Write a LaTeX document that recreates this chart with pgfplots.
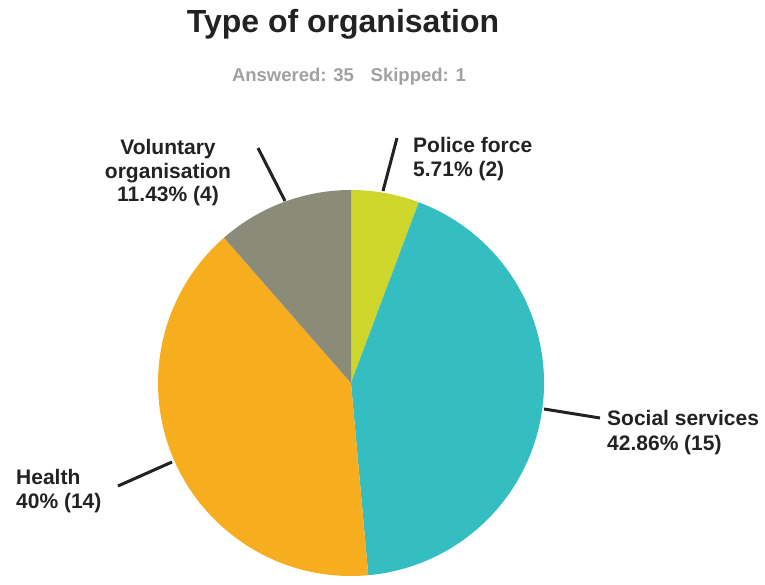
\documentclass[border=0pt]{standalone}
\usepackage{fontspec}
\setmainfont{Liberation Sans}
\usepackage{pgfplots}
\pgfplotsset{compat=1.18}
\usepackage{xcolor}

\definecolor{police}{RGB}{206,213,43}
\definecolor{social}{RGB}{52,190,193}
\definecolor{health}{RGB}{246,174,31}
\definecolor{volunt}{RGB}{139,139,122}
\definecolor{ink}{RGB}{34,34,34}
\definecolor{subgray}{RGB}{160,160,160}

% answers per type (35 answered)
\def\vPolice{2}
\def\vSocial{15}
\def\vHealth{14}
\def\vVol{4}
\def\total{35}

\begin{document}
\begin{tikzpicture}
\pgfmathsetmacro\aA{90}
\pgfmathsetmacro\aB{\aA-360*\vPolice/\total}
\pgfmathsetmacro\aC{\aB-360*\vSocial/\total}
\pgfmathsetmacro\aD{\aC-360*\vHealth/\total}
\pgfmathsetmacro\aE{\aD-360*\vVol/\total}
\begin{axis}[
    x=1pt, y=1pt,
    xmin=0, xmax=765, ymin=0, ymax=581,
    hide axis, clip=false,
  ]
  \path (axis cs:0,0) rectangle (axis cs:765,581);
  % slices, clockwise from the top
  \fill[police] (axis cs:351,198) -- ++(\aA:193pt) arc[start angle=\aA, end angle=\aB, radius=193pt] -- cycle;
  \fill[social] (axis cs:351,198) -- ++(\aB:193pt) arc[start angle=\aB, end angle=\aC, radius=193pt] -- cycle;
  \fill[health] (axis cs:351,198) -- ++(\aC:193pt) arc[start angle=\aC, end angle=\aD, radius=193pt] -- cycle;
  \fill[volunt] (axis cs:351,198) -- ++(\aD:193pt) arc[start angle=\aD, end angle=\aE, radius=193pt] -- cycle;

  % leader lines
  \draw[ink, line width=3pt] (axis cs:397,443) -- (axis cs:383,390);
  \draw[ink, line width=3pt] (axis cs:258,433) -- (axis cs:285,380);
  \draw[ink, line width=3pt] (axis cs:118,95) -- (axis cs:172,119);
  \draw[ink, line width=3pt] (axis cs:544,172) -- (axis cs:600,163);

  % title
  \node[anchor=base, ink, inner sep=0pt, font=\fontsize{32}{38}\selectfont\bfseries] at (axis cs:343,548) {Type of organisation};
  \node[anchor=base, subgray, inner sep=0pt, font=\fontsize{18.5}{22}\selectfont\bfseries] at (axis cs:349,499) {Answered: 35\hspace{0.9em}Skipped: 1};

  % labels
  \tikzset{lbl/.style={ink, inner sep=0pt, font=\fontsize{21}{24}\selectfont\bfseries}}
  \node[lbl, anchor=base west] at (axis cs:413,428) {Police force};
  \node[lbl, anchor=base west] at (axis cs:413,404.5) {5.71\% (2)};
  \node[lbl, anchor=base] at (axis cs:168,426) {Voluntary};
  \node[lbl, anchor=base] at (axis cs:168,402.5) {organisation};
  \node[lbl, anchor=base] at (axis cs:168,379) {11.43\% (4)};
  \node[lbl, anchor=base west] at (axis cs:607,155) {Social services};
  \node[lbl, anchor=base west] at (axis cs:607,130) {42.86\% (15)};
  \node[lbl, anchor=base west] at (axis cs:16,96) {Health};
  \node[lbl, anchor=base west] at (axis cs:16,73) {40\% (14)};
\end{axis}
\end{tikzpicture}
\end{document}
